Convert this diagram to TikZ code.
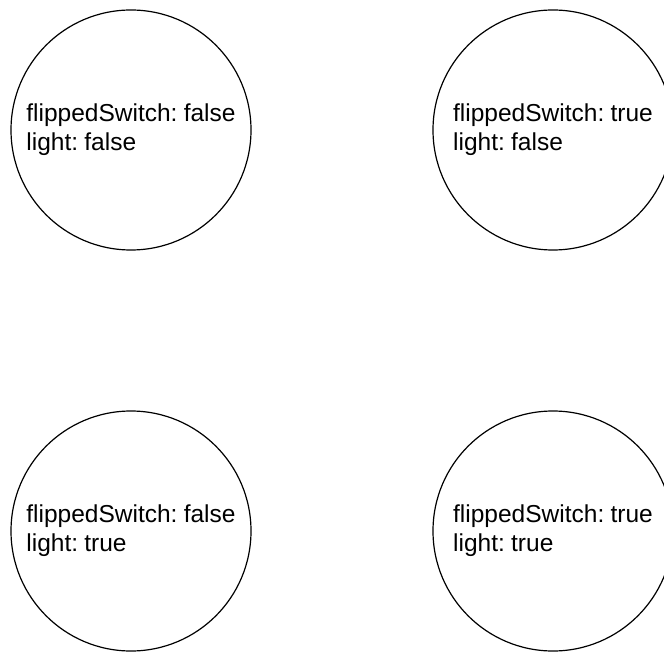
\documentclass[tikz,border=0pt]{standalone}
\usepackage{fontspec}
\setmainfont{Liberation Sans}
\usepackage{tikz}
\newcommand{\statefont}{\fontsize{24.5}{29}\selectfont\spaceskip 4pt\relax}

\begin{document}
\begin{tikzpicture}[x=1pt,y=-1pt,
  every node/.style={font=\statefont},
  state/.style={circle,draw,line width=1.2pt,minimum size=240pt,inner sep=0pt,align=left}]
  \clip (0,0) rectangle (664,652);
  \node[state] (ff) at (131,130) {flippedSwitch: false\\light: false};
  \node[state] (tf) at (553,130) {flippedSwitch: true\\light: false};
  \node[state] (ft) at (131,531) {flippedSwitch: false\\light: true};
  \node[state] (tt) at (553,531) {flippedSwitch: true\\light: true};
\end{tikzpicture}
\end{document}
